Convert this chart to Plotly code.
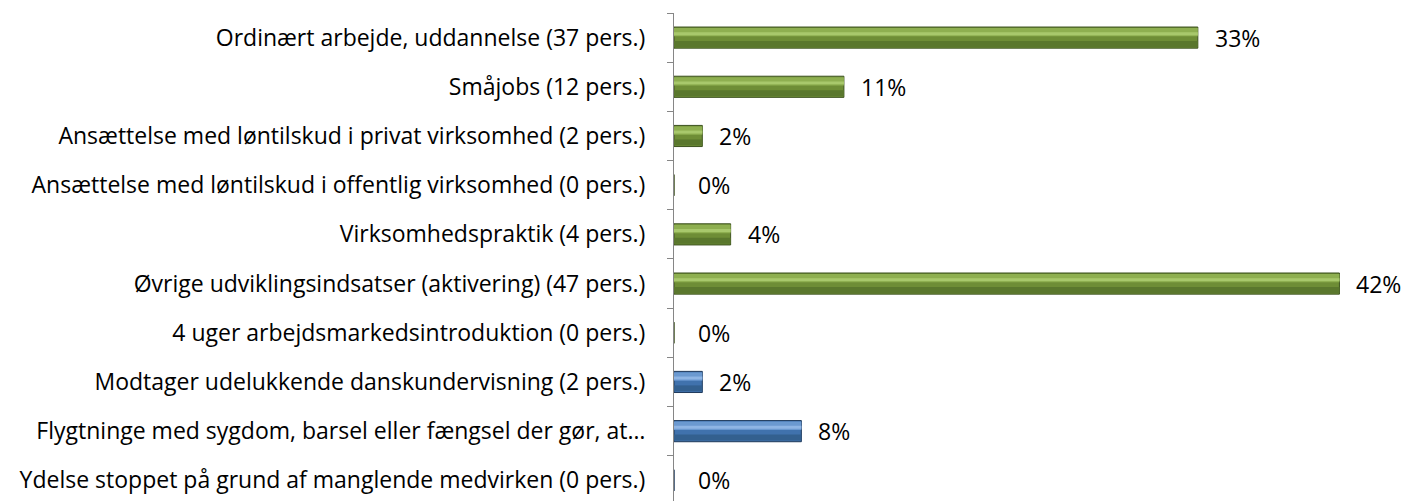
import plotly.graph_objects as go

categories = [
    "Ordinært arbejde, uddannelse (37 pers.)",
    "Småjobs (12 pers.)",
    "Ansættelse med løntilskud i privat virksomhed (2 pers.)",
    "Ansættelse med løntilskud i offentlig virksomhed (0 pers.)",
    "Virksomhedspraktik (4 pers.)",
    "Øvrige udviklingsindsatser (aktivering) (47 pers.)",
    "4 uger arbejdsmarkedsintroduktion (0 pers.)",
    "Modtager udelukkende danskundervisning (2 pers.)",
    "Flygtninge med sygdom, barsel eller fængsel der gør, at…",
    "Ydelse stoppet på grund af manglende medvirken (0 pers.)",
]
percent = [32.74, 10.62, 1.77, 0.0, 3.54, 41.59, 0.0, 1.77, 7.96, 0.0]
group = ["green"] * 7 + ["blue"] * 3

palette = {
    "green": dict(body="#6e8d36", top="#8eaf50", hi="#a8c86c", low="#5a772d", edge="#3e5320"),
    "blue": dict(body="#4072ad", top="#6b99d0", hi="#8fb5e4", low="#33608f", edge="#1f3a5c"),
}

FONT = "Open Sans"
FSIZE = 23

fig = go.Figure()
layers = [
    ("body", 0.43, -0.215, True),
    ("top", 0.17, -0.195, False),
    ("hi", 0.06, -0.11, False),
    ("low", 0.12, 0.07, False),
]
for key, w, off, edged in layers:
    fig.add_trace(go.Bar(
        y=categories, x=percent, orientation="h",
        marker=dict(color=[palette[g][key] for g in group],
                    line=dict(color=[palette[g]["edge"] for g in group],
                              width=1 if edged else 0)),
        width=w, offset=off, hoverinfo="skip", showlegend=False,
    ))

for c, v in zip(categories, percent):
    fig.add_annotation(x=v, y=c, text=f"{v:.0f}%", showarrow=False,
                       xanchor="left", yanchor="middle",
                       xshift=22 if v == 0 else 15,
                       font=dict(size=FSIZE, color="#000000", family=FONT))

fig.update_layout(
    width=1404, height=501,
    margin=dict(l=674, r=10, t=13, b=0, autoexpand=False),
    paper_bgcolor="white", plot_bgcolor="white",
    barmode="overlay",
    font=dict(family=FONT, size=FSIZE, color="#000000"),
    xaxis=dict(range=[0, 45], visible=False, showgrid=False, zeroline=False),
    yaxis=dict(
        type="category", range=[9.42, -0.5], automargin=False,
        showline=True, linecolor="#868686", linewidth=1,
        ticks="outside", ticklen=6, tickcolor="#868686", tickson="boundaries",
        showgrid=False, ticklabelstandoff=23,
        tickfont=dict(size=FSIZE, family=FONT, color="#000000"),
    ),
)

fig.write_html(
    "out.html",
    config={"displayModeBar": False},
    post_script="document.body.style.margin='0px';document.body.style.overflow='hidden';",
)
